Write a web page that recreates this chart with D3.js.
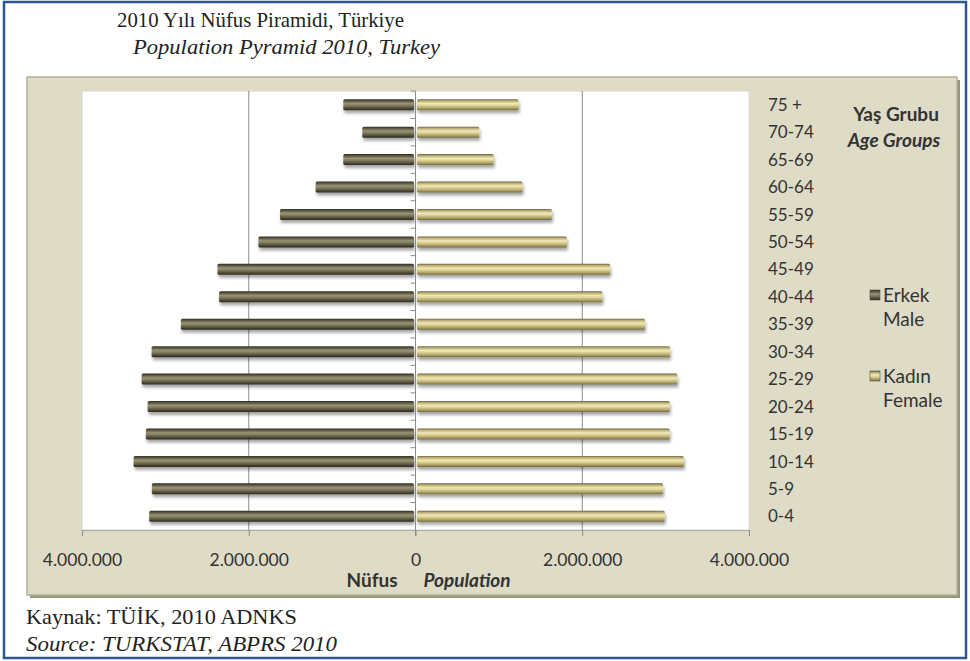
<!DOCTYPE html>
<html>
<head>
<meta charset="utf-8">
<script src="https://cdn.jsdelivr.net/npm/d3@7"></script>
<style>
  body { margin: 0; background: #fff; }
</style>
</head>
<body>
<div id="plot"></div>
<script>
// age groups, bottom to top
var ageGroups = ["0-4", "5-9", "10-14", "15-19", "20-24", "25-29", "30-34", "35-39",
                 "40-44", "45-49", "50-54", "55-59", "60-64", "65-69", "70-74", "75 +"];
var male   = [3194000, 3162000, 3381000, 3234000, 3213000, 3285000, 3165000, 2814000,
              2356000, 2375000, 1884000, 1625000, 1198000, 866000, 638000, 866000];
var female = [2990000, 2970000, 3220000, 3050000, 3050000, 3141000, 3054000, 2754000,
              2243000, 2335000, 1816000, 1637000, 1285000, 938000, 766000, 1237000];
var xTicks = [-4000000, -2000000, 0, 2000000, 4000000];

document.addEventListener('DOMContentLoaded', () => {

    var W = 970, H = 661;
    var plot = {left: 82, right: 749, top: 91, bottom: 530};
    var sans = "Lato, 'Open Sans', sans-serif";
    var serif = "'Liberation Serif', 'Times New Roman', serif";

    var svg = d3.select("#plot")
      .append("svg")
        .attr("width", W)
        .attr("height", H);

    var defs = svg.append("defs");

    // rounded "tube" look of the bars
    function tube(id, stops) {
        var g = defs.append("linearGradient").attr("id", id)
            .attr("x1", 0).attr("y1", 0).attr("x2", 0).attr("y2", 1);
        stops.forEach(function (s) {
            g.append("stop").attr("offset", s[0]).attr("stop-color", s[1]);
        });
    }
    tube("gMale", [[0, "#2e2b20"], [0.15, "#5a5541"], [0.4, "#9a9476"], [0.6, "#7c765c"], [0.85, "#4a4634"], [1, "#2a271d"]]);
    tube("gFemale", [[0, "#6a6040"], [0.15, "#b8ad72"], [0.4, "#f1e9b8"], [0.6, "#d8cd8e"], [0.85, "#a59a5e"], [1, "#6e6440"]]);

    var shadow = defs.append("filter").attr("id", "shadow")
        .attr("x", "-5%").attr("y", "-50%").attr("width", "110%").attr("height", "250%");
    shadow.append("feDropShadow").attr("dx", 1).attr("dy", 3).attr("stdDeviation", 1.6)
        .attr("flood-color", "#000").attr("flood-opacity", 0.35);

    // outer blue frame
    svg.append("rect")
        .attr("x", 4).attr("y", 2).attr("width", 962).attr("height", 656)
        .attr("fill", "none").attr("stroke", "#2c5592").attr("stroke-width", 2.5);

    // serif texts, stretched to the widths seen in the original
    function serifText(txt, x0, y0, len, italic) {
        svg.append("text").attr("x", x0).attr("y", y0)
            .attr("textLength", len).attr("lengthAdjust", "spacingAndGlyphs")
            .style("font-family", serif).style("font-size", "21px").style("fill", "#222")
            .style("font-style", italic ? "italic" : "normal")
            .text(txt);
    }
    serifText("2010 Yılı Nüfus Piramidi, Türkiye", 117, 27, 287, false);
    serifText("Population Pyramid 2010, Turkey", 133, 54, 307, true);

    // chart panel
    svg.append("rect")
        .attr("x", 30).attr("y", 80).attr("width", 930).attr("height", 518)
        .attr("fill", "#9b977f");
    svg.append("rect")
        .attr("x", 27).attr("y", 77).attr("width", 930).attr("height", 518)
        .attr("fill", "#dedbc6").attr("stroke", "#b4b09a").attr("stroke-width", 1.5);

    // plot area
    svg.append("rect")
        .attr("x", plot.left).attr("y", plot.top)
        .attr("width", plot.right - plot.left).attr("height", plot.bottom - plot.top)
        .attr("fill", "#fff").attr("stroke", "#d8d8d0").attr("stroke-width", 1);

    var x = d3.scaleLinear()
        .domain([-4000000, 4000000])
        .range([plot.left, plot.right]);

    var y = d3.scaleBand()
        .domain(ageGroups.slice().reverse())
        .range([plot.top, plot.bottom])
        .paddingInner(0.6)
        .paddingOuter(0.3);

    var locale = d3.formatLocale({decimal: ",", thousands: ".", grouping: [3], currency: ["", ""]});
    var fmt = locale.format(",d");

    // gridlines
    svg.append("g")
        .selectAll("line")
        .data(xTicks.filter(function (d) { return d !== 0 && Math.abs(d) < 4000000; }))
        .enter()
        .append("line")
        .attr("x1", function (d) { return x(d); })
        .attr("x2", function (d) { return x(d); })
        .attr("y1", plot.top).attr("y2", plot.bottom)
        .attr("stroke", "#8c8c8c").attr("stroke-width", 1);

    // bottom axis
    var xAxis = svg.append("g")
        .attr("transform", "translate(0," + plot.bottom + ")")
        .call(d3.axisBottom(x).tickValues(xTicks).tickSize(6).tickPadding(18)
            .tickFormat(function (d) { return fmt(Math.abs(d)); }));
    xAxis.select(".domain").attr("stroke", "#a8a8a8");
    xAxis.selectAll(".tick line").attr("stroke", "#8c8c8c");
    xAxis.selectAll("text")
        .style("font-family", sans)
        .style("font-size", "17.5px").style("fill", "#333");

    // bars
    var rows = ageGroups.map(function (a, i) { return {age: a, m: male[i], f: female[i]}; });

    svg.append("g").selectAll("rect")
        .data(rows)
        .enter()
        .append("rect")
        .attr("x", function (d) { return x(-d.m); })
        .attr("y", function (d) { return y(d.age); })
        .attr("width", function (d) { return x(0) - x(-d.m) - 1.5; })
        .attr("height", y.bandwidth())
        .attr("rx", 1.5)
        .attr("fill", "url(#gMale)")
        .attr("filter", "url(#shadow)");

    svg.append("g").selectAll("rect")
        .data(rows)
        .enter()
        .append("rect")
        .attr("x", x(0) + 1.5)
        .attr("y", function (d) { return y(d.age); })
        .attr("width", function (d) { return x(d.f) - x(0) - 1.5; })
        .attr("height", y.bandwidth())
        .attr("rx", 1.5)
        .attr("fill", "url(#gFemale)")
        .attr("filter", "url(#shadow)");

    // vertical zero axis with small category ticks
    svg.append("line")
        .attr("x1", x(0)).attr("x2", x(0))
        .attr("y1", plot.top).attr("y2", plot.bottom + 6)
        .attr("stroke", "#8c8c8c");
    var step = y.step();
    svg.append("g").selectAll("line")
        .data(ageGroups)
        .enter()
        .append("line")
        .attr("x1", x(0) - 5).attr("x2", x(0))
        .attr("y1", function (d) { return y(d) - y.paddingInner() * step / 2; })
        .attr("y2", function (d) { return y(d) - y.paddingInner() * step / 2; })
        .attr("stroke", "#8c8c8c");

    // category labels on the right
    svg.append("g").selectAll("text")
        .data(ageGroups)
        .enter()
        .append("text")
        .attr("x", 768)
        .attr("y", function (d) { return y(d) + y.bandwidth() / 2; })
        .attr("dy", "0.36em")
        .style("font-family", sans)
        .style("font-size", "17px").style("fill", "#333")
        .text(function (d) { return d; });

    // axis title
    var lab = {"font-family": sans, "font-size": "19px", "font-weight": "bold", "fill": "#333"};
    function styled(sel, st) { Object.keys(st).forEach(function (k) { sel.style(k, st[k]); }); return sel; }
    styled(svg.append("text").attr("x", 372).attr("y", 587).attr("text-anchor", "middle").text("Nüfus"), lab);
    styled(svg.append("text").attr("x", 467).attr("y", 587).attr("text-anchor", "middle")
        .style("font-style", "italic").text("Population"), lab);

    // legend title
    styled(svg.append("text").attr("x", 896).attr("y", 121).attr("text-anchor", "middle").text("Yaş Grubu"), lab);
    styled(svg.append("text").attr("x", 894).attr("y", 147).attr("text-anchor", "middle")
        .style("font-style", "italic").text("Age Groups"), lab);

    // legend items
    var legend = [
        {name: "Erkek", en: "Male", fill: "url(#gMale)", y: 295},
        {name: "Kadın", en: "Female", fill: "url(#gFemale)", y: 376}
    ];
    var lg = svg.append("g").selectAll("g")
        .data(legend)
        .enter()
        .append("g");
    lg.append("rect")
        .attr("x", 870).attr("y", function (d) { return d.y - 5; })
        .attr("width", 10).attr("height", 10)
        .attr("fill", function (d) { return d.fill; })
        .attr("stroke", "#5a5540").attr("stroke-width", 0.6);
    lg.append("text")
        .attr("x", 883).attr("y", function (d) { return d.y; }).attr("dy", "0.36em")
        .style("font-family", sans).style("font-size", "19px").style("fill", "#333")
        .text(function (d) { return d.name; });
    lg.append("text")
        .attr("x", 883).attr("y", function (d) { return d.y + 24; }).attr("dy", "0.36em")
        .style("font-family", sans).style("font-size", "19px").style("fill", "#333")
        .text(function (d) { return d.en; });

    // source
    serifText("Kaynak: TÜİK, 2010 ADNKS", 26, 624, 271, false);
    serifText("Source: TURKSTAT, ABPRS 2010", 26, 651, 311, true);
});
</script>
</body>
</html>
